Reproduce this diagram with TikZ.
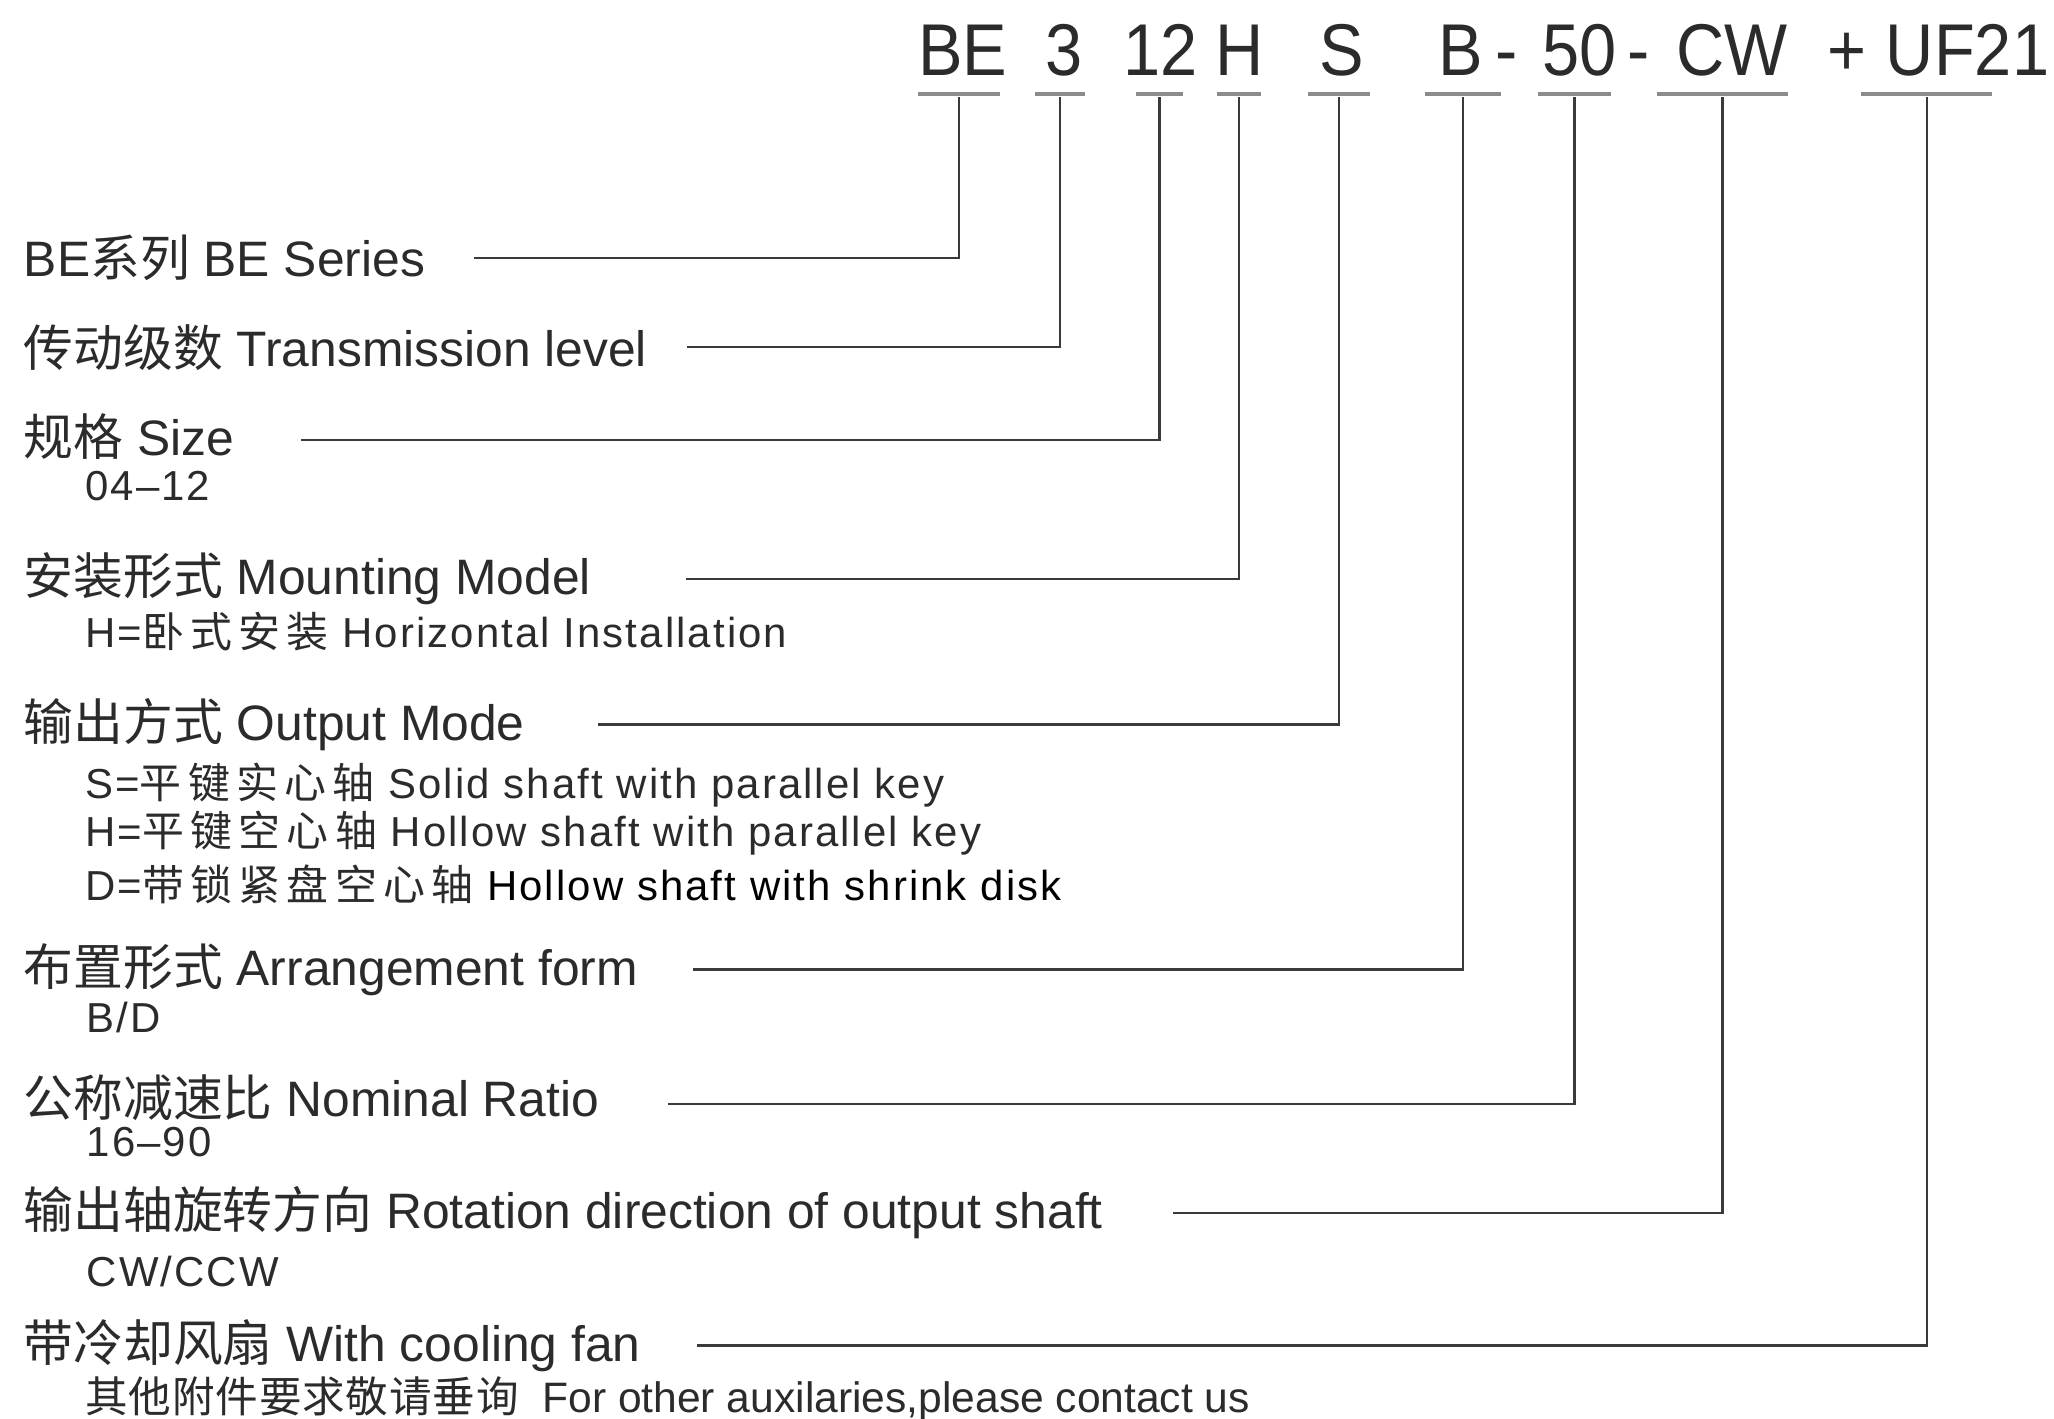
\documentclass[tikz,border=0pt]{standalone}
\usepackage{fontspec}
\setmainfont{Liberation Sans}
\newfontfamily\cjk{Noto Sans CJK SC}
\newfontfamily\petit[LetterSpace=5]{Liberation Sans}
\newfontfamily\petitcjk[LetterSpace=15]{Noto Sans CJK SC}
\newfontfamily\notecjk[LetterSpace=2]{Noto Sans CJK SC}
\newfontfamily\codefont[FakeStretch=0.91]{Liberation Sans}
\usetikzlibrary{positioning}
\definecolor{encre}{HTML}{2B2B2B}
\definecolor{trait}{HTML}{3A3A3A}
\definecolor{souligne}{HTML}{8C8C8C}
\tikzset{
  titre/.style={anchor=base, inner sep=0pt, text=encre, font=\codefont\fontsize{56}{60}\selectfont},
  barre/.style={fill=souligne, inner sep=0pt, minimum height=3pt},
  etiq/.style={anchor=west, inner sep=0pt, text=encre, font=\fontsize{38}{44}\selectfont},
  detail/.style={anchor=west, inner sep=0pt, text=encre, font=\petit\fontsize{32}{38}\selectfont},
  note/.style={anchor=west, inner sep=0pt, text=encre, font=\fontsize{32.5}{38}\selectfont},
  lien/.style={draw=trait, line width=1.8pt},
}
\begin{document}
\begin{tikzpicture}[x=1pt, y=-1pt]
    % Le cadre
    \fill[white] (0,0) rectangle (1568,1083);
    \useasboundingbox (0,0) rectangle (1568,1083);
    % Le code du reducteur
    \node[titre] (c1) at (735,58) {BE};
    \node[titre] (c2) at (812,58) {3};
    \node[titre] (c3) at (886,58) {12};
    \node[titre] (c4) at (946,58) {H};
    \node[titre] (c5) at (1024,58) {S};
    \node[titre] (c6) at (1115,58) {B};
    \node[titre] (t1) at (1150,58) {-};
    \node[titre] (c7) at (1206,58) {50};
    \node[titre] (t2) at (1251,58) {-};
    \node[titre] (c8) at (1322,58) {CW};
    \node[titre] (plus) at (1410,58) {+};
    \node[titre] (c9) at (1502,58) {UF21};
    % Les soulignes sous le code
    \node[barre, minimum width=63pt] (u1) at (732,72) {};
    \node[barre, minimum width=38pt] (u2) at (809,72) {};
    \node[barre, minimum width=36pt] (u3) at (885,72) {};
    \node[barre, minimum width=34pt] (u4) at (946,72) {};
    \node[barre, minimum width=47pt] (u5) at (1022,72) {};
    \node[barre, minimum width=58pt] (u6) at (1117,72) {};
    \node[barre, minimum width=56pt] (u7) at (1202,72) {};
    \node[barre, minimum width=100pt] (u8) at (1315,72) {};
    \node[barre, minimum width=100pt] (u9) at (1471,72) {};
    % Les libelles
    \node[etiq] (l1) at (18,197) {BE{\cjk 系列} BE Series};
    \node[etiq] (l2) at (18,265) {{\cjk 传动级数} Transmission level};
    \node[etiq] (l3) at (18,333) {{\cjk 规格} Size};
    \node[detail] (d3) at (65,371) {04–12};
    \node[etiq] (l4) at (18,442) {{\cjk 安装形式} Mounting Model};
    \node[detail] (d4) at (65,482) {H={\petitcjk 卧式安装} Horizontal Installation};
    \node[etiq] (l5) at (18,553) {{\cjk 输出方式} Output Mode};
    \node[detail] (d5a) at (65,599) {S={\petitcjk 平键实心轴} Solid shaft with parallel key};
    \node[detail] (d5b) at (65,636) {H={\petitcjk 平键空心轴} Hollow shaft with parallel key};
    \node[detail] (d5c) at (65,675) {D={\petitcjk 带锁紧盘空心轴} \textcolor{black}{Hollow shaft with shrink disk}};
    \node[etiq] (l6) at (18,740) {{\cjk 布置形式} Arrangement form};
    \node[detail] (d6) at (66,777) {B/D};
    \node[etiq] (l7) at (18,838) {{\cjk 公称减速比} Nominal Ratio};
    \node[detail] (d7) at (66,872) {16–90};
    \node[etiq] (l8) at (18,926) {{\cjk 输出轴旋转方向} Rotation direction of output shaft};
    \node[detail] (d8) at (66,971) {CW/CCW};
    \node[etiq] (l9) at (18,1027) {{\cjk 带冷却风扇} With cooling fan};
    \node[note] (d9) at (65,1068) {{\notecjk 其他附件要求敬请垂询}\ \ For other auxilaries,please contact us};
    % Les traits vers le code
    \draw[lien] ([xshift=37pt]l1.east) -| (u1);
    \draw[lien] ([xshift=30pt]l2.east) -| (u2);
    \draw[lien] ([xshift=51pt, yshift=-3pt]l3.east) -| (u3);
    \draw[lien] ([xshift=72pt]l4.east) -| (u4);
    \draw[lien] ([xshift=56pt]l5.east) -| (u5);
    \draw[lien] ([xshift=42pt]l6.east) -| (u6);
    \draw[lien] ([xshift=52pt, yshift=-5pt]l7.east) -| (u7);
    \draw[lien] ([xshift=53pt]l8.east) -| (u8);
    \draw[lien] ([xshift=43pt]l9.east) -| (u9);
\end{tikzpicture}
\end{document}
